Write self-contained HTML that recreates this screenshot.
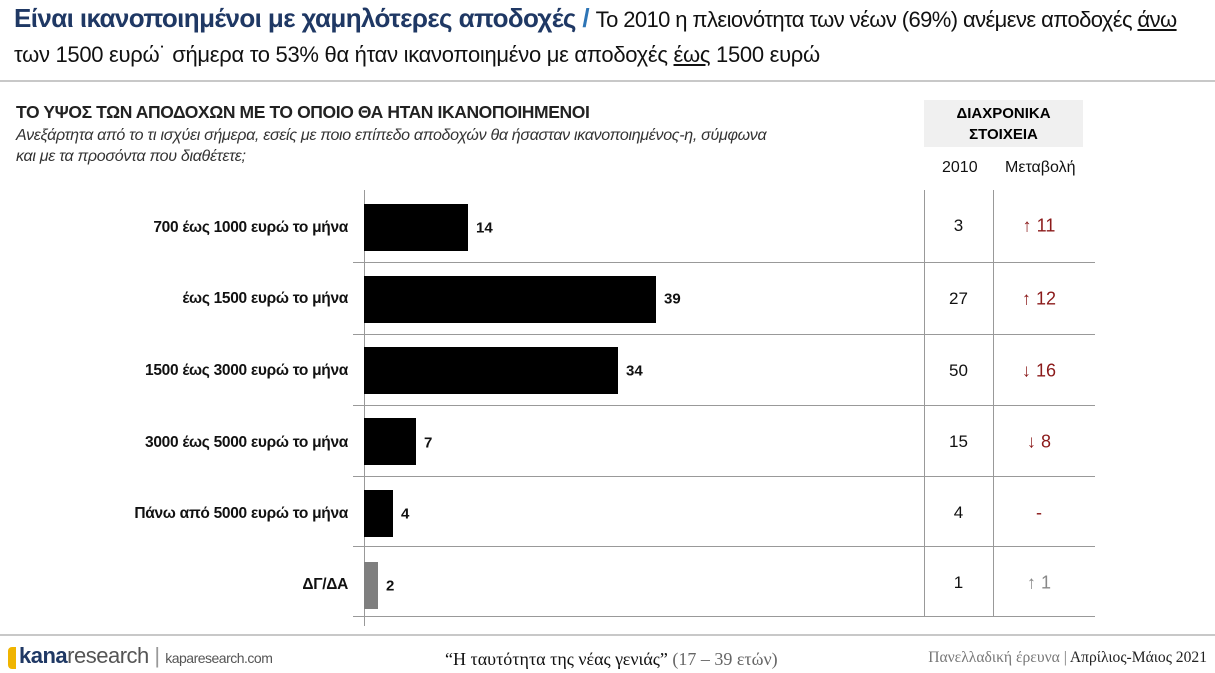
<!DOCTYPE html>
<html><head><meta charset="utf-8"><style>
body{margin:0;width:1215px;height:673px;background:#fff;position:relative;overflow:hidden;font-family:"Liberation Sans","DejaVu Sans",sans-serif;}
.a{position:absolute;white-space:nowrap;}
.lab{position:absolute;right:867px;font-size:15.5px;font-weight:bold;color:#111;transform:translateY(-50%);letter-spacing:-0.3px}
.bar{position:absolute;left:364px;height:47px;background:#000}
.val{position:absolute;font-size:15px;font-weight:bold;color:#111;transform:translateY(-50%)}
.hl{position:absolute;left:353px;width:742px;height:1px;background:#999}
.c1{position:absolute;left:924px;width:69px;text-align:center;font-size:17px;color:#111;transform:translateY(-50%)}
.c2{position:absolute;left:993px;width:92px;text-align:center;font-size:18px;color:#8b1a1a;transform:translateY(-50%)}
</style></head><body>
<div class="a" style="left:14px;top:3px;font-size:26px;color:#1f3864;letter-spacing:-0.6px"><b>Είναι ικανοποιημένοι με χαμηλότερες αποδοχές</b> <span style="color:#2e75b6;font-weight:bold">/</span> <span style="font-size:22px;color:#111">Το 2010 η πλειονότητα των νέων (69%) ανέμενε αποδοχές <u>άνω</u></span></div>
<div class="a" style="left:14px;top:42px;font-size:22px;color:#111;letter-spacing:-0.3px">των 1500 ευρώ˙ σήμερα το 53% θα ήταν ικανοποιημένο με αποδοχές <u>έως</u> 1500 ευρώ</div>
<div class="a" style="left:0;top:80px;width:1215px;height:2px;background:#c8c8c8"></div>
<div class="a" style="left:16px;top:102px;font-size:17.5px;font-weight:bold;color:#222;letter-spacing:-0.4px">ΤΟ ΥΨΟΣ ΤΩΝ ΑΠΟΔΟΧΩΝ ΜΕ ΤΟ ΟΠΟΙΟ ΘΑ ΗΤΑΝ ΙΚΑΝΟΠΟΙΗΜΕΝΟΙ</div>
<div class="a" style="left:16px;top:125px;font-size:16px;font-style:italic;color:#333;line-height:21px;letter-spacing:-0.3px">Ανεξάρτητα από το τι ισχύει σήμερα, εσείς με ποιο επίπεδο αποδοχών θα ήσασταν ικανοποιημένος-η, σύμφωνα<br>και με τα προσόντα που διαθέτετε;</div>
<div class="a" style="left:924px;top:100px;width:159px;height:47px;background:#f0f0f0;text-align:center;font-size:15px;font-weight:bold;line-height:21px;padding-top:3px;box-sizing:border-box">ΔΙΑΧΡΟΝΙΚΑ<br>ΣΤΟΙΧΕΙΑ</div>
<div class="a" style="left:942px;top:159px;font-size:16px;color:#111">2010</div>
<div class="a" style="left:1005px;top:159px;font-size:16px;color:#111">Μεταβολή</div>

<div class="a" style="left:364px;top:190px;width:1px;height:436px;background:#999"></div>
<div class="a" style="left:924px;top:190px;width:1px;height:426px;background:#999"></div>
<div class="a" style="left:993px;top:190px;width:1px;height:426px;background:#999"></div>
<div class="hl" style="top:262px"></div><div class="hl" style="top:334px"></div><div class="hl" style="top:405px"></div><div class="hl" style="top:476px"></div><div class="hl" style="top:546px"></div><div class="hl" style="top:616px"></div>

<div class="lab" style="top:228px">700 έως 1000 ευρώ το μήνα</div>
<div class="lab" style="top:299px">έως 1500 ευρώ το μήνα</div>
<div class="lab" style="top:371px">1500 έως 3000 ευρώ το μήνα</div>
<div class="lab" style="top:443px">3000 έως 5000 ευρώ το μήνα</div>
<div class="lab" style="top:514px">Πάνω από 5000 ευρώ το μήνα</div>
<div class="lab" style="top:585px">ΔΓ/ΔΑ</div>

<div class="bar" style="top:204px;width:104px"></div><div class="val" style="left:476px;top:228px">14</div>
<div class="bar" style="top:276px;width:292px"></div><div class="val" style="left:664px;top:299px">39</div>
<div class="bar" style="top:347px;width:254px"></div><div class="val" style="left:626px;top:371px">34</div>
<div class="bar" style="top:418px;width:52px"></div><div class="val" style="left:424px;top:443px">7</div>
<div class="bar" style="top:490px;width:29px"></div><div class="val" style="left:401px;top:514px">4</div>
<div class="bar" style="top:562px;width:14px;background:#7f7f7f"></div><div class="val" style="left:386px;top:586px">2</div>

<div class="c1" style="top:226px">3</div><div class="c2" style="top:226px">↑ 11</div>
<div class="c1" style="top:299px">27</div><div class="c2" style="top:299px">↑ 12</div>
<div class="c1" style="top:371px">50</div><div class="c2" style="top:371px">↓ 16</div>
<div class="c1" style="top:442px">15</div><div class="c2" style="top:442px">↓ 8</div>
<div class="c1" style="top:513px">4</div><div class="c2" style="top:513px">-</div>
<div class="c1" style="top:583px">1</div><div class="c2" style="top:583px;color:#888">↑ 1</div>

<div class="a" style="left:0;top:634px;width:1215px;height:2px;background:#c8c8c8"></div>
<div class="a" style="left:8px;top:647px;width:8px;height:22px;background:#f0b400;border-radius:4px 0 0 4px"></div>
<div class="a" style="left:19px;top:643px;font-size:22px;color:#1f3864;letter-spacing:-0.5px"><b>kana</b><span style="color:#555">research</span> <span style="color:#999">|</span> <span style="font-size:14px;color:#555">kaparesearch.com</span></div>
<div class="a" style="left:445px;top:649px;font-size:18px;color:#111;font-family:'Liberation Serif',serif">“Η ταυτότητα της νέας γενιάς” <span style="color:#666">(17 – 39 ετών)</span></div>
<div class="a" style="right:8px;top:649px;font-size:15.6px;color:#777;font-family:'Liberation Serif',serif">Πανελλαδική έρευνα | <span style="color:#222">Απρίλιος-Μάιος 2021</span></div>
</body></html>
